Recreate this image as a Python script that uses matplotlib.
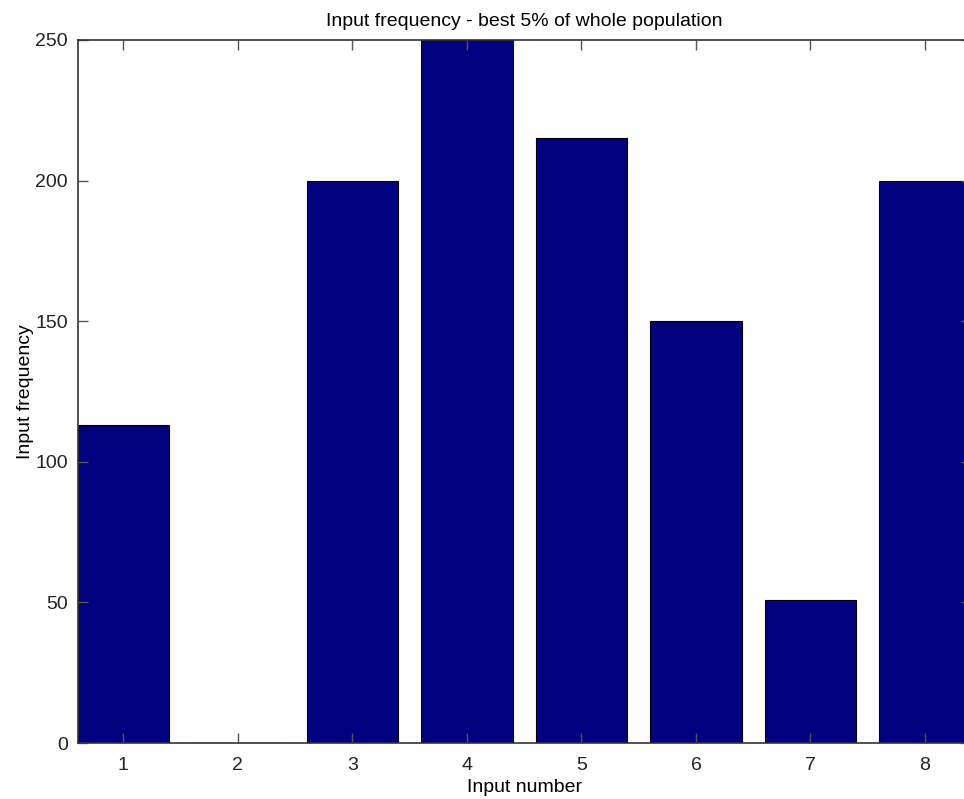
import matplotlib.pyplot as plt

inputs = [1, 2, 3, 4, 5, 6, 7, 8]
frequency = [113, 0, 200, 250, 215, 150, 51, 200]

plt.rcParams['font.family'] = ['Liberation Sans', 'DejaVu Sans']

fig = plt.figure(figsize=(9.64, 7.99), dpi=100, facecolor='white')
# right edge of the box lies just past the picture, as in the original
ax = fig.add_axes([77.5 / 964, 1 - 743 / 799, (970.8 - 77.5) / 964, (743 - 40) / 799])

ax.bar(inputs, frequency, width=0.8, color='#000080', edgecolor='black', linewidth=0.8)

ax.set_xlim(0.6, 8.4)
ax.set_ylim(0, 250)
ax.set_xticks(inputs)
ax.set_yticks([0, 50, 100, 150, 200, 250])
ax.tick_params(direction='in', length=7, width=1, top=True, right=True,
               labelsize=14, colors='#555555', labelcolor='#222222', pad=7)
ax.tick_params(axis='x', pad=10)
for s in ax.spines.values():
    s.set_linewidth(1.2)
    s.set_color('#333333')

ax.set_title('Input frequency - best 5% of whole population', fontsize=14, pad=10)
ax.set_xlabel('Input number', fontsize=14, labelpad=4)
ax.set_ylabel('Input frequency', fontsize=14, labelpad=1)

plt.savefig('out.png', dpi=100, facecolor='white')
plt.close()
